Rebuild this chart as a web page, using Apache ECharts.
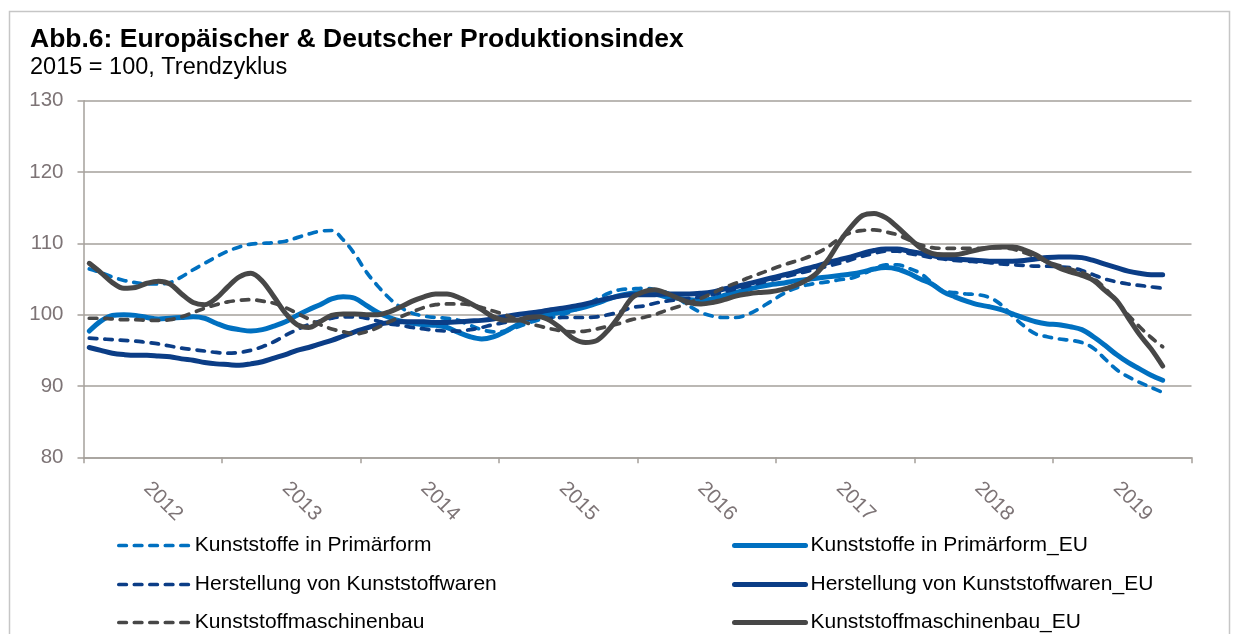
<!DOCTYPE html>
<html>
<head>
<meta charset="utf-8">
<title>Produktionsindex</title>
<script src="https://cdn.jsdelivr.net/npm/echarts@6/dist/echarts.min.js"></script>
<style>
    body { margin: 0; background: #ffffff; }
    #chart { width: 1238px; height: 634px; }
</style>
</head>
<body>
<div id="chart"></div>
<script>
    // Jahre der x-Achse (Monatswerte, Jan 2012 - Dez 2019)
    var years = ['2012', '2013', '2014', '2015', '2016', '2017', '2018', '2019'];

    // Trendzyklus, 2015 = 100, Jan 2012 - Okt 2019
    var primaerform = [106.4, 105.9, 105.3, 104.8, 104.5, 104.3, 104.3, 104.5, 105.3, 106.3, 107.2, 108.1,
        108.9, 109.5, 109.9, 110.0, 110.1, 110.3, 110.8, 111.3, 111.7, 111.8, 110.5, 108.5,
        106.0, 104.0, 102.3, 101.0, 100.2, 99.8, 99.6, 99.5, 99.2, 98.5, 97.9, 97.6,
        97.7, 98.2, 98.8, 99.3, 99.6, 100.0, 100.6, 101.3, 102.2, 103.0, 103.5, 103.6,
        103.7, 103.5, 103.1, 102.3, 101.2, 100.3, 99.8, 99.6, 99.6, 100.0, 100.8, 101.8,
        102.8, 103.6, 104.1, 104.4, 104.6, 104.9, 105.1, 105.7, 106.4, 107.0, 107.0, 106.5,
        105.8, 104.5, 103.3, 103.1, 102.9, 102.8, 102.4, 101.4, 99.8, 98.4, 97.3, 96.9,
        96.6, 96.4, 96.1, 95.3, 93.8, 92.3, 91.3, 90.5, 89.8, 89.1];
    var primaerformEU = [97.7, 99.1, 99.9, 100.0, 99.9, 99.6, 99.4, 99.5, 99.6, 99.7, 99.5, 98.8,
        98.2, 97.9, 97.7, 97.9, 98.4, 99.0, 99.9, 100.7, 101.4, 102.2, 102.5, 102.3,
        101.3, 100.3, 99.6, 99.1, 98.8, 98.6, 98.5, 98.2, 97.5, 96.9, 96.6, 96.9,
        97.6, 98.5, 99.3, 99.9, 100.1, 100.4, 100.7, 101.1, 101.6, 102.2, 102.7, 103.0,
        103.1, 102.9, 102.5, 102.3, 102.1, 102.0, 102.2, 102.7, 103.1, 103.5, 103.9, 104.2,
        104.4, 104.7, 104.9, 105.1, 105.3, 105.5, 105.7, 106.0, 106.4, 106.6, 106.4, 105.8,
        105.0, 104.3, 103.2, 102.5, 101.9, 101.4, 101.1, 100.7, 100.1, 99.5, 99.0, 98.7,
        98.6, 98.3, 97.9, 96.9, 95.7, 94.4, 93.3, 92.4, 91.5, 90.8];
    var herstellung = [96.7, 96.6, 96.5, 96.4, 96.3, 96.1, 95.9, 95.6, 95.3, 95.1, 94.9, 94.7,
        94.6, 94.7, 95.0, 95.5, 96.2, 97.1, 97.9, 98.6, 99.1, 99.5, 99.7, 99.7,
        99.5, 99.1, 98.7, 98.5, 98.2, 98.0, 97.8, 97.7, 97.7, 97.9, 98.2, 98.6,
        98.9, 99.3, 99.4, 99.5, 99.5, 99.6, 99.6, 99.6, 99.7, 100.0, 100.4, 101.0,
        101.2, 101.6, 101.9, 102.1, 102.3, 102.5, 102.8, 103.2, 103.6, 104.0, 104.4, 104.8,
        105.2, 105.6, 106.0, 106.4, 106.8, 107.2, 107.7, 108.2, 108.6, 108.9, 108.9, 108.6,
        108.3, 108.0, 107.8, 107.6, 107.5, 107.4, 107.3, 107.1, 107.0, 106.9, 106.8, 106.8,
        106.7, 106.6, 106.2, 105.6, 105.0, 104.6, 104.3, 104.1, 103.9, 103.7];
    var herstellungEU = [95.4, 95.0, 94.6, 94.4, 94.3, 94.3, 94.2, 94.1, 93.8, 93.6, 93.3, 93.1,
        93.0, 92.9, 93.1, 93.4, 93.9, 94.4, 95.0, 95.4, 95.9, 96.4, 97.0, 97.6,
        98.1, 98.6, 98.9, 99.0, 99.0, 99.0, 98.9, 98.9, 99.0, 99.1, 99.2, 99.4,
        99.7, 100.0, 100.2, 100.4, 100.7, 100.9, 101.2, 101.5, 101.9, 102.3, 102.6, 102.8,
        102.8, 102.8, 102.9, 102.9, 102.9, 103.0, 103.2, 103.6, 103.9, 104.3, 104.7, 105.1,
        105.5, 105.9, 106.4, 106.8, 107.3, 107.7, 108.1, 108.6, 109.0, 109.2, 109.2, 108.9,
        108.6, 108.3, 108.0, 107.8, 107.7, 107.6, 107.5, 107.5, 107.5, 107.6, 107.8, 108.0,
        108.1, 108.1, 108.0, 107.6, 107.1, 106.6, 106.1, 105.8, 105.6, 105.6];
    var maschinenbau = [99.5, 99.5, 99.4, 99.3, 99.3, 99.2, 99.2, 99.3, 99.7, 100.3, 100.9, 101.4,
        101.8, 102.0, 102.1, 101.9, 101.6, 101.0, 100.2, 99.4, 98.6, 98.0, 97.6, 97.3,
        97.6, 98.2, 99.0, 99.7, 100.4, 101.0, 101.4, 101.5, 101.5, 101.4, 101.0, 100.5,
        100.0, 99.4, 98.8, 98.4, 98.0, 97.7, 97.6, 97.7, 98.0, 98.4, 98.8, 99.3,
        99.6, 100.0, 100.6, 101.1, 101.7, 102.3, 103.0, 103.8, 104.4, 105.1, 105.7, 106.3,
        106.9, 107.4, 107.9, 108.6, 109.5, 110.7, 111.5, 111.8, 111.9, 111.6, 111.2, 110.5,
        109.8, 109.4, 109.3, 109.3, 109.3, 109.3, 109.4, 109.4, 109.2, 108.7, 108.1, 107.4,
        106.9, 106.4, 105.9, 105.1, 103.7, 101.9, 100.0, 98.3, 96.8, 95.5];
    var maschinenbauEU = [107.2, 105.9, 104.5, 103.7, 103.8, 104.4, 104.7, 104.3, 102.9, 101.7, 101.4, 102.3,
        103.9, 105.3, 105.8, 104.7, 102.5, 100.2, 98.6, 98.2, 99.0, 99.9, 100.1, 100.1,
        100.0, 100.0, 100.4, 101.1, 101.9, 102.5, 102.9, 102.9, 102.4, 101.6, 100.7, 99.7,
        99.2, 99.2, 99.6, 99.7, 99.1, 97.9, 96.6, 96.1, 96.4, 97.9, 100.0, 102.3,
        103.2, 103.5, 103.0, 102.3, 101.7, 101.5, 101.7, 102.1, 102.6, 102.9, 103.1, 103.2,
        103.5, 104.0, 104.7, 105.8, 107.7, 110.2, 112.3, 113.9, 114.2, 113.6, 112.3, 110.8,
        109.4, 108.6, 108.4, 108.4, 108.7, 109.1, 109.4, 109.5, 109.5, 109.1, 108.4, 107.4,
        106.6, 106.0, 105.5, 104.8, 103.4, 102.0, 99.6, 97.2, 95.2, 92.8];

    var yTicks = { min: 80, max: 130, step: 10 };

    var months = [];
    years.forEach(function (y) {
        for (var m = 1; m <= 12; m++) {
            months.push(y + '-' + (m < 10 ? '0' + m : m));
        }
    });

    var hellblau = '#0070c0';
    var dunkelblau = '#0b3d86';
    var grau = '#474747';
    var schrift = 'Liberation Sans, Arial, sans-serif';
    var achsenGrau = '#a5a09b';

    function linie(name, data, color, dashed) {
        return {
            name: name,
            type: 'line',
            data: data,
            smooth: 0.35,
            symbol: 'none',
            lineStyle: {
                color: color,
                width: dashed ? 3.7 : 5,
                type: dashed ? [7.5, 8] : 'solid',
                cap: 'round',
                join: 'round'
            },
            itemStyle: { color: color }
        };
    }

    // eine Legende je Eintrag, damit die zwei Spalten genau sitzen
    function legende(name, left, top) {
        return {
            data: [name],
            orient: 'horizontal',
            left: left,
            top: top,
            padding: 0,
            itemWidth: 71,
            itemHeight: 2,
            lineStyle: { width: 'inherit' },
            itemStyle: { opacity: 0 },
            textStyle: { fontFamily: schrift, fontSize: 21, color: '#000000' }
        };
    }

    var chart = echarts.init(document.getElementById('chart'));
    var option = {
        animation: false,
        backgroundColor: '#ffffff',
        title: [{
            text: 'Abb.6: Europäischer & Deutscher Produktionsindex',
            left: 30,
            top: 26,
            padding: 0,
            textStyle: { fontFamily: schrift, fontSize: 26.5, fontWeight: 'bold', color: '#000000' }
        }, {
            text: '2015 = 100, Trendzyklus',
            left: 30,
            top: 56,
            padding: 0,
            textStyle: { fontFamily: schrift, fontSize: 23.5, fontWeight: 'normal', color: '#000000' }
        }],
        graphic: [{
            type: 'rect',
            shape: { x: 9.5, y: 11.5, width: 1220, height: 660 },
            style: { fill: 'none', stroke: '#c6c6c6', lineWidth: 1.5 },
            silent: true
        }],
        legend: [
            legende('Kunststoffe in Primärform', 117, 535),
            legende('Herstellung von Kunststoffwaren', 117, 574),
            legende('Kunststoffmaschinenbau', 117, 612),
            legende('Kunststoffe in Primärform_EU', 732, 535),
            legende('Herstellung von Kunststoffwaren_EU', 732, 574),
            legende('Kunststoffmaschinenbau_EU', 732, 612)
        ],
        grid: { left: 83.5, right: 46.5, top: 100.7, bottom: 176.7, containLabel: false },
        xAxis: {
            type: 'category',
            data: months,
            boundaryGap: true,
            axisLine: { lineStyle: { color: achsenGrau, width: 1.5 } },
            axisTick: {
                show: true,
                length: 6,
                interval: function (i) { return i % 12 === 0; },
                lineStyle: { color: achsenGrau, width: 1.5 }
            },
            axisLabel: {
                interval: function (i) { return i % 12 === 5; },
                formatter: function (v) { return v.slice(0, 4); },
                rotate: -45,
                margin: 28,
                fontFamily: schrift,
                fontSize: 20.5,
                color: '#7d7476'
            },
            splitLine: { show: false }
        },
        yAxis: {
            type: 'value',
            min: yTicks.min,
            max: yTicks.max,
            interval: yTicks.step,
            axisLine: { show: true, lineStyle: { color: achsenGrau, width: 1.5 } },
            axisTick: { show: true, length: 6, lineStyle: { color: achsenGrau, width: 1.5 } },
            axisLabel: { margin: 20, fontFamily: schrift, fontSize: 20.5, color: '#7d7476' },
            splitLine: { lineStyle: { color: achsenGrau, width: 1.5 } }
        },
        series: [
            linie('Kunststoffe in Primärform', primaerform, hellblau, true),
            linie('Kunststoffe in Primärform_EU', primaerformEU, hellblau, false),
            linie('Herstellung von Kunststoffwaren', herstellung, dunkelblau, true),
            linie('Herstellung von Kunststoffwaren_EU', herstellungEU, dunkelblau, false),
            linie('Kunststoffmaschinenbau', maschinenbau, grau, true),
            linie('Kunststoffmaschinenbau_EU', maschinenbauEU, grau, false)
        ]
    };
    chart.setOption(option);
</script>
</body>
</html>
